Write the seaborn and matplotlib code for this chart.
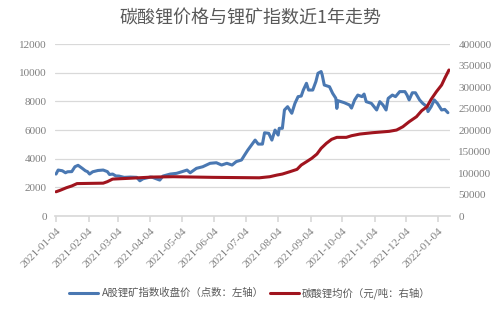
import matplotlib
matplotlib.use("Agg")
import matplotlib.pyplot as plt
import matplotlib.dates as mdates
import seaborn as sns
import pandas as pd

# A股锂矿指数收盘价 (left axis)
index_dates = [
    "2021-01-04", "2021-01-06", "2021-01-10", "2021-01-13", "2021-01-15", "2021-01-19",
    "2021-01-22", "2021-01-25", "2021-01-29", "2021-02-01", "2021-02-03", "2021-02-05",
    "2021-02-08", "2021-02-13", "2021-02-18", "2021-02-22", "2021-02-24", "2021-02-27",
    "2021-03-02", "2021-03-05", "2021-03-10", "2021-03-16", "2021-03-22", "2021-03-25",
    "2021-03-28", "2021-04-04", "2021-04-06", "2021-04-13", "2021-04-16", "2021-04-23",
    "2021-04-29", "2021-05-04", "2021-05-09", "2021-05-12", "2021-05-18", "2021-05-24",
    "2021-05-31", "2021-06-06", "2021-06-11", "2021-06-16", "2021-06-21", "2021-06-25",
    "2021-06-30", "2021-07-03", "2021-07-06", "2021-07-13", "2021-07-16", "2021-07-20",
    "2021-07-22", "2021-07-26", "2021-07-29", "2021-08-01", "2021-08-04", "2021-08-05",
    "2021-08-08", "2021-08-10", "2021-08-13", "2021-08-17", "2021-08-20", "2021-08-23",
    "2021-08-26", "2021-08-28", "2021-08-31", "2021-09-02", "2021-09-06", "2021-09-09",
    "2021-09-11", "2021-09-14", "2021-09-15", "2021-09-17", "2021-09-22", "2021-09-25",
    "2021-09-28", "2021-09-29", "2021-09-30", "2021-10-06", "2021-10-11", "2021-10-13",
    "2021-10-16", "2021-10-19", "2021-10-23", "2021-10-25", "2021-10-27", "2021-11-01",
    "2021-11-06", "2021-11-09", "2021-11-12", "2021-11-15", "2021-11-17", "2021-11-21",
    "2021-11-24", "2021-11-28", "2021-12-03", "2021-12-05", "2021-12-07", "2021-12-10",
    "2021-12-13", "2021-12-17", "2021-12-20", "2021-12-24", "2021-12-25", "2021-12-28",
    "2021-12-31", "2022-01-03", "2022-01-07", "2022-01-10", "2022-01-13",
]
index_values = [
    2930, 3210, 3160, 3020, 3090, 3100,
    3440, 3540, 3330, 3160, 3100, 2930,
    3090, 3180, 3210, 3100, 2900, 2930,
    2800, 2790, 2700, 2720, 2700, 2460,
    2600, 2720, 2700, 2510, 2790, 2930,
    2980, 3090, 3210, 3020, 3330, 3440,
    3680, 3720, 3560, 3680, 3560, 3800,
    3910, 4260, 4600, 5300, 5020, 5020,
    5810, 5770, 5300, 6000, 5650, 6120,
    6120, 7400, 7630, 7170, 7860, 8330,
    8370, 8790, 9260, 8790, 8790, 9380,
    9960, 10080, 9850, 9140, 9020, 8560,
    8220, 7510, 8050, 7910, 7750, 7530,
    8100, 8440, 8330, 8510, 7980, 7860,
    7400, 7980, 7750, 7400, 8210, 8440,
    8330, 8680, 8680, 8440, 8100, 8600,
    8600, 8100, 7860, 7630, 7290, 7630,
    8100, 7860, 7400, 7440, 7210,
]

# 碳酸锂均价 (right axis)
price_dates = [
    "2021-01-04", "2021-01-08", "2021-01-14", "2021-01-19", "2021-01-24", "2021-02-05",
    "2021-02-18", "2021-02-22", "2021-02-27", "2021-03-13", "2021-04-06", "2021-04-26",
    "2021-06-03", "2021-07-17", "2021-07-27", "2021-08-03", "2021-08-08", "2021-08-15",
    "2021-08-22", "2021-08-26", "2021-08-31", "2021-09-05", "2021-09-10", "2021-09-14",
    "2021-09-19", "2021-09-24", "2021-09-29", "2021-10-08", "2021-10-13", "2021-10-21",
    "2021-11-02", "2021-11-18", "2021-11-25", "2021-12-01", "2021-12-07", "2021-12-14",
    "2021-12-19", "2021-12-24", "2021-12-28", "2022-01-02", "2022-01-07", "2022-01-10",
    "2022-01-14",
]
price_values = [
    56500, 60000, 66000, 70000, 75500, 76000,
    76500, 80000, 86000, 87600, 90700, 91500,
    90000, 89000, 91500, 95400, 97700, 103000,
    108600, 118600, 126300, 134200, 144200, 157500,
    169100, 178400, 183000, 183000, 186800, 190700,
    193800, 197000, 200000, 207700, 219300, 231000,
    245000, 254200, 271400, 289100, 304700, 320300,
    339600,
]

title = "碳酸锂价格与锂矿指数近1年走势"
label_index = "A股锂矿指数收盘价（点数：左轴）"
label_price = "碳酸锂均价（元/吨：右轴）"
tick_dates = pd.date_range("2021-01-01", "2022-01-01", freq="MS") + pd.Timedelta(days=3)

df_index = pd.DataFrame({"date": pd.to_datetime(index_dates), "value": index_values})
df_price = pd.DataFrame({"date": pd.to_datetime(price_dates), "value": price_values})

sns.set_theme(style="white")
plt.rcParams["font.family"] = ["Noto Sans CJK SC", "DejaVu Sans"]

blue = "#4a78b2"
red = "#a0141e"
grey_txt = "#7f7f7f"

fig = plt.figure(figsize=(5.0, 3.1), dpi=100)
ax = fig.add_axes([0.11, 0.303, 0.79, 0.555])
ax2 = ax.twinx()

sns.lineplot(data=df_index, x="date", y="value", ax=ax, color=blue, linewidth=2.2, label=label_index, legend=False)
sns.lineplot(data=df_price, x="date", y="value", ax=ax2, color=red, linewidth=2.2, label=label_price, legend=False)

ax.set_ylim(0, 12000)
ax.set_yticks(range(0, 12001, 2000))
ax2.set_ylim(0, 400000)
ax2.set_yticks(range(0, 400001, 50000))
ax.set_xlim(pd.Timestamp("2021-01-03"), pd.Timestamp("2022-01-15"))

ax.set_xticks(tick_dates)
ax.xaxis.set_major_formatter(mdates.DateFormatter("%Y-%m-%d"))
ax.grid(axis="y", color="#d9d9d9", linewidth=0.9)
ax.set_axisbelow(True)

for a in (ax, ax2):
    a.set_xlabel("")
    a.set_ylabel("")
    for s in a.spines.values():
        s.set_visible(False)
ax.spines["bottom"].set_visible(True)
ax.spines["bottom"].set_color("#d9d9d9")

serif = ["Liberation Serif", "DejaVu Serif"]
ax.tick_params(axis="y", length=0, labelsize=8, labelcolor=grey_txt, pad=6)
ax2.tick_params(axis="y", length=0, labelsize=8, labelcolor=grey_txt, pad=6)
ax.tick_params(axis="x", length=4, color="#d9d9d9", labelsize=8, labelcolor=grey_txt, bottom=True)
for lbl in ax.get_yticklabels() + ax2.get_yticklabels():
    lbl.set_family(serif)
for lbl in ax.get_xticklabels():
    lbl.set_family(serif)
    lbl.set_rotation(45)
    lbl.set_ha("right")
    lbl.set_rotation_mode("anchor")

fig.text(0.5, 0.94, title, ha="center", va="center", fontsize=13, color="#595959")

h1, l1 = ax.get_legend_handles_labels()
h2, l2 = ax2.get_legend_handles_labels()
fig.legend(h1 + h2, l1 + l2, loc="center", bbox_to_anchor=(0.5, 0.055), ncol=2, frameon=False,
           fontsize=7.5, labelcolor="#595959", handlelength=2.8, columnspacing=0.6, handletextpad=0.3)

fig.savefig("out.png", dpi=100)
